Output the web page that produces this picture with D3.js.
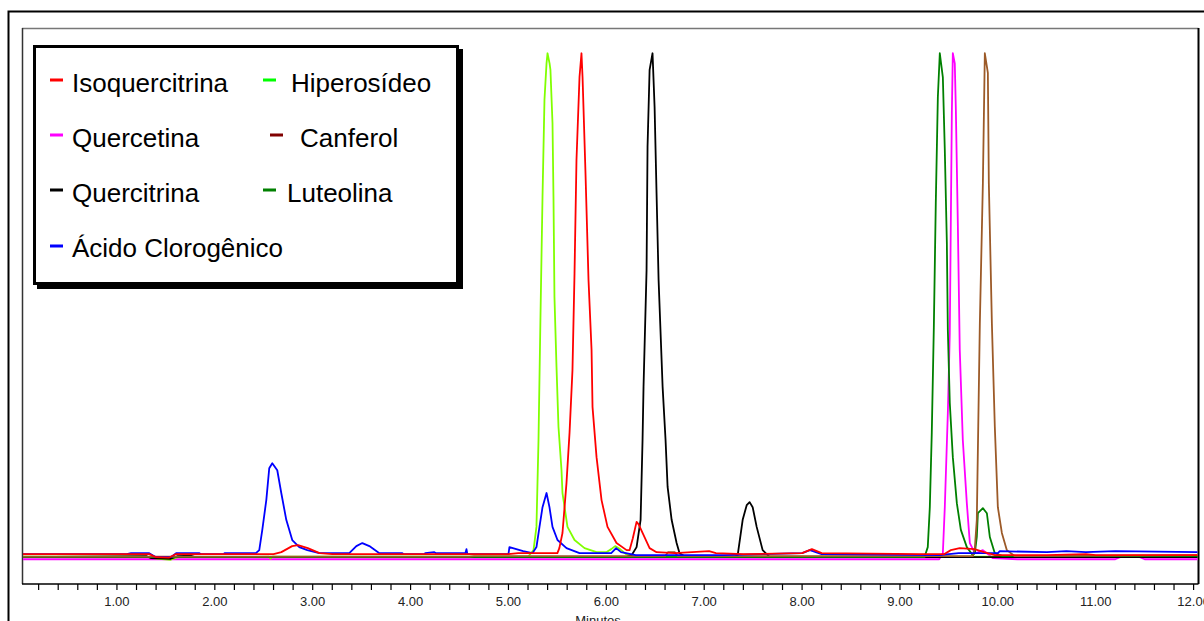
<!DOCTYPE html>
<html>
<head>
<meta charset="utf-8">
<script src="https://cdn.jsdelivr.net/npm/d3@7"></script>
<style>
  body { margin: 0; background: #fff; }
  text { font-family: "Liberation Sans", Arial, sans-serif; }
</style>
</head>
<body>
<svg id="chart"></svg>
<script>
// chromatogram traces, [minutes, absorbance (normalised)]
const isoquercitrina = [[0.03,0.009],[1.33,0.009],[1.40,0.003],[1.53,0.002],[1.60,0.009],[2.60,0.009],[2.68,0.013],[2.79,0.025],[2.85,0.027],[2.95,0.021],[3.07,0.011],[3.20,0.009],
  [5.00,0.009],[5.10,0.011],[5.50,0.011],[5.52,0.021],[5.552,0.051],[5.593,0.150],[5.624,0.249],[5.654,0.373],[5.675,0.565],[5.695,0.789],[5.726,0.953],[5.746,1.0],[5.757,0.953],
  [5.787,0.763],[5.818,0.551],[5.849,0.413],[5.859,0.300],[5.900,0.201],[5.951,0.116],[6.012,0.063],[6.104,0.031],[6.207,0.017],[6.237,0.017],[6.27,0.040],[6.309,0.073],
  [6.33,0.068],[6.370,0.051],[6.442,0.021],[6.513,0.013],[6.70,0.011],[7.05,0.015],[7.12,0.011],[7.40,0.009],[8.00,0.011],[8.10,0.019],[8.20,0.011],[9.20,0.009],[9.45,0.009],
  [9.52,0.017],[9.61,0.021],[9.76,0.019],[9.86,0.013],[9.97,0.007],[10.5,0.007],[10.9,0.009],[11.0,0.007],[12.05,0.007]];

const hiperosideo = [[0.03,0.004],[1.30,0.004],[1.40,0.000],[1.55,-0.002],[1.62,0.003],[2.55,0.004],[2.57,0.000],[2.59,0.004],[5.20,0.004],[5.256,0.017],[5.286,0.063],
  [5.307,0.235],[5.327,0.478],[5.348,0.716],[5.368,0.908],[5.389,0.980],[5.399,1.0],[5.42,0.980],[5.429,0.967],[5.450,0.862],[5.460,0.716],[5.470,0.518],[5.491,0.379],
  [5.511,0.261],[5.542,0.175],[5.552,0.130],[5.603,0.063],[5.675,0.037],[5.777,0.021],[5.90,0.013],[6.00,0.013],[6.05,0.019],[6.09,0.025],[6.14,0.019],[6.20,0.009],
  [6.30,0.004],[12.05,0.004]];

const acidoClorogenico = [[0.03,0.009],[1.10,0.009],[1.145,0.011],[1.33,0.011],[1.40,0.003],[1.55,0.003],[1.605,0.011],[1.84,0.011],[1.86,0.009],[2.09,0.009],[2.10,0.011],
  [2.42,0.011],[2.454,0.017],[2.485,0.057],[2.526,0.116],[2.556,0.179],[2.587,0.189],[2.638,0.175],[2.679,0.130],[2.730,0.077],[2.791,0.037],[2.863,0.023],[2.945,0.017],
  [3.067,0.011],[3.374,0.011],[3.446,0.025],[3.507,0.031],[3.579,0.025],[3.681,0.011],[3.916,0.011],[3.93,0.009],[4.14,0.009],[4.15,0.011],[4.243,0.013],[4.26,0.011],
  [4.56,0.011],[4.571,0.019],[4.58,0.009],[5.00,0.009],[5.01,0.023],[5.15,0.015],[5.245,0.011],[5.286,0.023],[5.317,0.063],[5.348,0.102],[5.389,0.130],[5.419,0.102],
  [5.450,0.063],[5.501,0.037],[5.593,0.021],[5.726,0.011],[6.05,0.011],[6.10,0.021],[6.15,0.013],[6.30,0.007],[6.60,0.007],[7.20,0.007],[8.00,0.011],[8.08,0.017],
  [8.20,0.009],[9.40,0.007],[9.60,0.011],[9.72,0.011],[10.00,0.011],[10.02,0.015],[10.50,0.013],[10.70,0.015],[10.90,0.013],[11.20,0.015],[12.05,0.013]];

const quercitrina = [[0.03,0.003],[1.30,0.005],[1.35,0.001],[1.55,0.000],[1.62,0.005],[1.75,0.006],[1.80,0.003],[6.20,0.003],[6.258,0.007],[6.309,0.023],[6.350,0.077],
  [6.370,0.235],[6.380,0.340],[6.411,0.571],[6.421,0.815],[6.442,0.967],[6.472,1.0],[6.493,0.894],[6.513,0.723],[6.534,0.551],[6.575,0.340],[6.605,0.235],[6.626,0.142],
  [6.667,0.077],[6.718,0.031],[6.748,0.011],[6.80,0.005],[7.30,0.003],[7.342,0.007],[7.393,0.077],[7.434,0.106],[7.464,0.112],[7.495,0.102],[7.536,0.063],[7.597,0.017],
  [7.669,0.003],[12.05,0.003]];

const quercetina = [[0.03,-0.001],[9.40,-0.001],[9.438,0.011],[9.458,0.102],[9.489,0.288],[9.509,0.447],[9.530,0.882],[9.540,1.0],[9.56,0.980],[9.571,0.888],[9.591,0.664],
  [9.611,0.413],[9.642,0.235],[9.683,0.110],[9.714,0.031],[9.765,0.011],[9.80,0.013],[9.847,0.017],[9.90,0.009],[9.95,0.001],[10.2,-0.001],[11.2,-0.001],[11.25,0.003],
  [11.45,0.003],[11.5,-0.001],[12.05,-0.001]];

const luteolina = [[0.03,0.003],[9.25,0.003],[9.284,0.023],[9.305,0.102],[9.325,0.249],[9.346,0.458],[9.366,0.704],[9.387,0.913],[9.407,1.0],[9.42,0.980],[9.438,0.953],
  [9.458,0.809],[9.479,0.625],[9.489,0.453],[9.509,0.308],[9.540,0.201],[9.581,0.110],[9.622,0.057],[9.683,0.023],[9.744,0.007],[9.765,0.011],[9.785,0.043],[9.796,0.090],
  [9.847,0.100],[9.888,0.090],[9.918,0.043],[9.969,0.011],[10.05,0.005],[12.05,0.005]];

const canferol = [[0.03,0.004],[4.60,0.004],[4.65,0.005],[6.60,0.005],[6.63,0.013],[6.70,0.013],[6.73,0.005],[9.744,0.005],[9.765,0.021],[9.785,0.077],[9.816,0.466],
  [9.847,0.743],[9.867,1.0],[9.898,0.961],[9.908,0.743],[9.939,0.466],[9.969,0.261],[10.000,0.102],[10.041,0.051],[10.092,0.017],[10.174,0.005],[12.05,0.007]];

// draw order (last on top)
const traces = [
  {name: "Quercetina", data: quercetina, color: "#ff00ff"},
  {name: "Hiperosídeo", data: hiperosideo, color: "#80ff00"},
  {name: "Quercitrina", data: quercitrina, color: "#000000"},
  {name: "Luteolina", data: luteolina, color: "#008000"},
  {name: "Canferol", data: canferol, color: "#9c5a28"},
  {name: "Ácido Clorogênico", data: acidoClorogenico, color: "#0000ff"},
  {name: "Isoquercitrina", data: isoquercitrina, color: "#ff0000"}
];

const legendItems = [
  {label: "Isoquercitrina", color: "#ff0000", dx: 50, tx: 72, row: 0},
  {label: "Hiperosídeo", color: "#00ff00", dx: 263, tx: 291, row: 0},
  {label: "Quercetina", color: "#ff00ff", dx: 50, tx: 72, row: 1},
  {label: "Canferol", color: "#800000", dx: 270, tx: 300, row: 1},
  {label: "Quercitrina", color: "#000000", dx: 50, tx: 72, row: 2},
  {label: "Luteolina", color: "#008000", dx: 263, tx: 287, row: 2},
  {label: "Ácido Clorogênico", color: "#0000ff", dx: 50, tx: 72, row: 3}
];

const majorTicks = [1,2,3,4,5,6,7,8,9,10,11,12];
const minorTicks = d3.range(1, 61).map(i => i * 0.2);
const xLabel = "Minutos";

const width = 1204, height = 621;
const svg = d3.select("#chart").attr("width", width).attr("height", height);
svg.append("rect").attr("width", width).attr("height", height).attr("fill", "#fff");

// outer border
svg.append("rect").attr("x", 8.5).attr("y", 11.5).attr("width", 1210).attr("height", 640)
  .attr("fill", "none").attr("stroke", "#000").attr("stroke-width", 2);

const pLeft = 22, pRight = 1198.5, pTop = 28, pBottom = 584;
const x = d3.scaleLinear().domain([0.03, 12.05]).range([pLeft, pRight]);
const y = d3.scaleLinear().domain([-0.05, 1.05]).range([pBottom, pTop]);

// plot frame
svg.append("line").attr("x1", pLeft).attr("x2", pRight).attr("y1", pTop + 0.5).attr("y2", pTop + 0.5)
  .attr("stroke", "#777").attr("stroke-width", 1.5);
svg.append("line").attr("x1", pLeft + 0.5).attr("x2", pLeft + 0.5).attr("y1", pTop).attr("y2", pBottom)
  .attr("stroke", "#333").attr("stroke-width", 1.5);
svg.append("line").attr("x1", pRight).attr("x2", pRight).attr("y1", pTop).attr("y2", pBottom)
  .attr("stroke", "#000").attr("stroke-width", 2);

svg.append("clipPath").attr("id", "plotclip").append("rect")
  .attr("x", pLeft + 1).attr("y", pTop + 1).attr("width", pRight - pLeft - 2).attr("height", pBottom - pTop - 1);

const line = d3.line().x(d => x(d[0])).y(d => y(d[1]));
const g = svg.append("g").attr("clip-path", "url(#plotclip)");
g.selectAll("path.trace").data(traces).enter().append("path")
  .attr("class", "trace")
  .attr("d", d => line(d.data))
  .attr("fill", "none")
  .attr("stroke", d => d.color)
  .attr("stroke-width", 1.8)
  .attr("stroke-linejoin", "round");

// x axis
const axis = svg.append("g").attr("transform", `translate(0,${pBottom})`);
axis.append("line").attr("x1", pLeft).attr("x2", pRight).attr("stroke", "#000").attr("stroke-width", 1.5);
axis.selectAll("line.tick").data(minorTicks).enter().append("line")
  .attr("class", "tick")
  .attr("x1", d => x(d)).attr("x2", d => x(d))
  .attr("y1", 0).attr("y2", 6)
  .attr("stroke", "#000").attr("stroke-width", 1.2);
axis.selectAll("text").data(majorTicks).enter().append("text")
  .attr("x", d => x(d)).attr("y", 22)
  .attr("text-anchor", "middle")
  .attr("font-size", 13)
  .attr("fill", "#222")
  .text(d => d.toFixed(2));
svg.append("text").attr("x", 598).attr("y", 625).attr("text-anchor", "middle")
  .attr("font-size", 13).attr("fill", "#222").text(xLabel);

// legend box with shadow
const lg = svg.append("g");
lg.append("rect").attr("x", 37).attr("y", 49).attr("width", 426).attr("height", 240).attr("fill", "#000");
lg.append("rect").attr("x", 34.5).attr("y", 46.5).attr("width", 423).attr("height", 237)
  .attr("fill", "#fff").attr("stroke", "#000").attr("stroke-width", 3);
const rowDash = [80, 135, 190, 246];
const rowText = [92, 147, 202, 257];
lg.selectAll("rect.dash").data(legendItems).enter().append("rect")
  .attr("class", "dash")
  .attr("x", d => d.dx).attr("y", d => rowDash[d.row] - 1.5)
  .attr("width", 13).attr("height", 3)
  .attr("fill", d => d.color);
lg.selectAll("text").data(legendItems).enter().append("text")
  .attr("x", d => d.tx).attr("y", d => rowText[d.row])
  .attr("font-size", 26)
  .attr("fill", "#000")
  .text(d => d.label);
</script>
</body>
</html>
